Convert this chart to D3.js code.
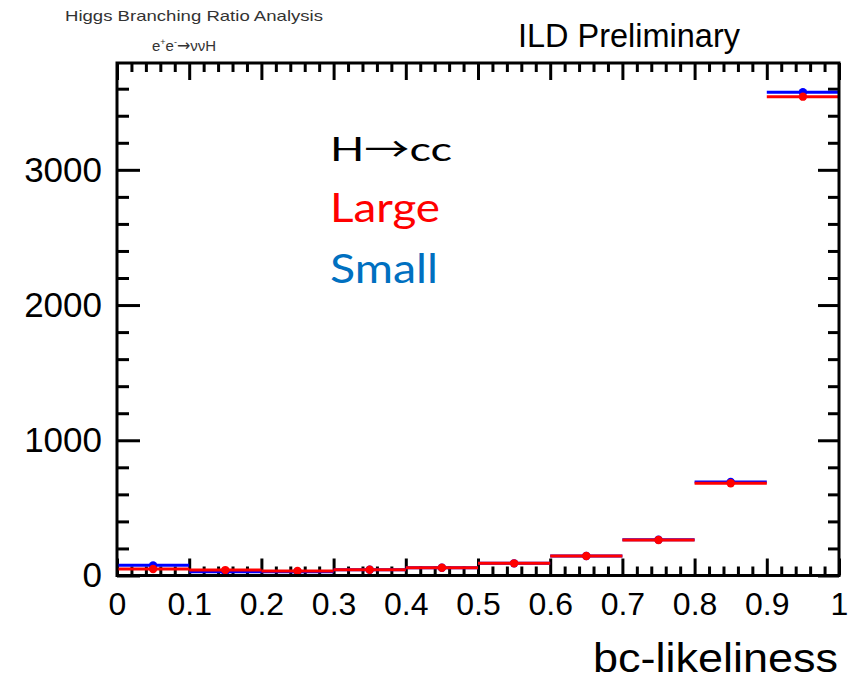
<!DOCTYPE html>
<html>
<head>
<meta charset="utf-8">
<script src="https://cdn.jsdelivr.net/npm/d3@7"></script>
<style>
  html, body { margin: 0; padding: 0; background: #fff; }
  svg { display: block; }
  text { font-family: "Liberation Sans", Arial, Helvetica, sans-serif; }
  text.legend, text.legend tspan { font-family: Lato, "Open Sans", sans-serif; }
  text.legend tspan.arrow { font-family: "Noto Sans CJK SC", sans-serif; }
</style>
</head>
<body>
<svg id="chart" width="858" height="681"></svg>
<script>
// Histogram bins of bc-likeliness (lower edges, bin width 0.1)
const binEdges = [0, 0.1, 0.2, 0.3, 0.4, 0.5, 0.6, 0.7, 0.8, 0.9, 1.0];
// Event counts per bin for the two detector options
const largeCounts = [48, 40, 33, 43, 57, 90, 144, 262, 682, 3541];
const smallCounts = [75, 28, 28, 42, 57, 90, 144, 264, 692, 3574];

// Axis ticks
const xMajorTicks = [0, 0.1, 0.2, 0.3, 0.4, 0.5, 0.6, 0.7, 0.8, 0.9, 1];
const xTickLabels = ["0", "0.1", "0.2", "0.3", "0.4", "0.5", "0.6", "0.7", "0.8", "0.9", "1"];
const yMajorTicks = [0, 1000, 2000, 3000];
const yTickLabels = ["0", "1000", "2000", "3000"];

const svg = d3.select("#chart");

const frame = { left: 117, right: 839, top: 63, bottom: 575.5 };
const yMax = 3790;

const x = d3.scaleLinear().domain([0, 1]).range([frame.left, frame.right]);
const y = d3.scaleLinear().domain([0, yMax]).range([frame.bottom, frame.top]);

const xMinorTicks = d3.range(0, 1.0001, 0.02).map(v => +v.toFixed(2))
  .filter(v => !xMajorTicks.some(m => Math.abs(m - v) < 1e-6));
const yMinorTicks = d3.range(0, yMax, 200).filter(v => v % 1000 !== 0);

function styleAxis(g, fontSize) {
  g.select(".domain").remove();
  g.selectAll(".tick line").attr("stroke", "#000").attr("stroke-width", 3);
  g.selectAll(".tick text")
    .attr("fill", "#000")
    .style("font-family", '"Liberation Sans", Arial, sans-serif')
    .style("font-size", fontSize + "px");
}

// Bottom axis: major ticks with labels, minor ticks inward
svg.append("g")
  .attr("transform", `translate(0,${frame.bottom})`)
  .call(d3.axisBottom(x).tickValues(xMajorTicks).tickSize(-17).tickPadding(16.5)
    .tickFormat((d, i) => xTickLabels[i]))
  .call(g => styleAxis(g, 32));
svg.append("g")
  .attr("transform", `translate(0,${frame.bottom})`)
  .call(d3.axisBottom(x).tickValues(xMinorTicks).tickSize(-9).tickFormat(""))
  .call(g => styleAxis(g, 32));

// Top axis: ticks only
svg.append("g")
  .attr("transform", `translate(0,${frame.top})`)
  .call(d3.axisTop(x).tickValues(xMajorTicks).tickSize(-17).tickFormat(""))
  .call(g => styleAxis(g, 32));
svg.append("g")
  .attr("transform", `translate(0,${frame.top})`)
  .call(d3.axisTop(x).tickValues(xMinorTicks).tickSize(-9).tickFormat(""))
  .call(g => styleAxis(g, 32));

// Left axis: labelled major ticks and minor ticks
svg.append("g")
  .attr("transform", `translate(${frame.left},0)`)
  .call(d3.axisLeft(y).tickValues(yMajorTicks).tickSize(-23).tickPadding(15)
    .tickFormat((d, i) => yTickLabels[i]))
  .call(g => styleAxis(g, 35));
svg.append("g")
  .attr("transform", `translate(${frame.left},0)`)
  .call(d3.axisLeft(y).tickValues(yMinorTicks).tickSize(-12).tickFormat(""))
  .call(g => styleAxis(g, 35));

// Right axis: ticks only
svg.append("g")
  .attr("transform", `translate(${frame.right},0)`)
  .call(d3.axisRight(y).tickValues(yMajorTicks).tickSize(-21).tickFormat(""))
  .call(g => styleAxis(g, 35));
svg.append("g")
  .attr("transform", `translate(${frame.right},0)`)
  .call(d3.axisRight(y).tickValues(yMinorTicks).tickSize(-11).tickFormat(""))
  .call(g => styleAxis(g, 35));

// Histograms: horizontal bin segments with a marker at the bin centre
const bins = d3.range(binEdges.length - 1);
function drawHist(counts, color) {
  const g = svg.append("g");
  g.selectAll("line")
    .data(bins)
    .join("line")
    .attr("x1", i => x(binEdges[i]))
    .attr("x2", i => x(binEdges[i + 1]))
    .attr("y1", i => y(counts[i]))
    .attr("y2", i => y(counts[i]))
    .attr("stroke", color)
    .attr("stroke-width", 3);
  g.selectAll("circle")
    .data(bins)
    .join("circle")
    .attr("cx", i => x((binEdges[i] + binEdges[i + 1]) / 2))
    .attr("cy", i => y(counts[i]))
    .attr("r", 4.2)
    .attr("fill", color);
}
drawHist(smallCounts, "#0000ff");
drawHist(largeCounts, "#ff0000");

// Frame
svg.append("rect")
  .attr("x", frame.left).attr("y", frame.top)
  .attr("width", frame.right - frame.left)
  .attr("height", frame.bottom - frame.top)
  .attr("fill", "none").attr("stroke", "#000").attr("stroke-width", 3);

// Header texts
svg.append("text")
  .attr("x", 65).attr("y", 21)
  .attr("textLength", 258).attr("lengthAdjust", "spacingAndGlyphs")
  .style("font-size", "15px").attr("fill", "#333")
  .text("Higgs Branching Ratio Analysis");

const proc = svg.append("text")
  .attr("x", 152).attr("y", 51)
  .style("font-size", "15px").attr("fill", "#333");
proc.append("tspan").text("e");
proc.append("tspan").attr("dy", -6).style("font-size", "9px").text("+");
proc.append("tspan").attr("dy", 6).text("e");
proc.append("tspan").attr("dy", -6).style("font-size", "9px").text("-");
proc.append("tspan").attr("dy", 6)
  .style("font-family", '"DejaVu Sans", sans-serif').style("font-size", "16px").text("→");
proc.append("tspan").text("ννH");

svg.append("text")
  .attr("x", 518).attr("y", 47)
  .attr("textLength", 222).attr("lengthAdjust", "spacingAndGlyphs")
  .style("font-size", "33px").attr("fill", "#000")
  .text("ILD Preliminary");

// Axis title
svg.append("text")
  .attr("x", 593).attr("y", 672)
  .attr("textLength", 245).attr("lengthAdjust", "spacingAndGlyphs")
  .style("font-size", "40px").attr("fill", "#000")
  .text("bc-likeliness");

// Legend
const legend = svg.append("g");

const hcc = legend.append("text")
  .attr("class", "legend")
  .attr("x", 330).attr("y", 161)
  .attr("textLength", 122).attr("lengthAdjust", "spacingAndGlyphs")
  .style("font-size", "33px").attr("fill", "#000");
hcc.append("tspan").text("H");
hcc.append("tspan").attr("class", "arrow").text("→");
hcc.append("tspan").text("cc");

const legendItems = [
  { label: "Large", color: "#ff0000", y: 222, size: 40, width: 110 },
  { label: "Small", color: "#0070c0", y: 283, size: 40, width: 108 }
];
legend.selectAll("text.entry")
  .data(legendItems)
  .join("text")
  .attr("class", "legend entry")
  .attr("x", 330)
  .attr("y", d => d.y)
  .attr("textLength", d => d.width)
  .attr("lengthAdjust", "spacingAndGlyphs")
  .style("font-size", d => d.size + "px")
  .attr("fill", d => d.color)
  .text(d => d.label);
</script>
</body>
</html>
